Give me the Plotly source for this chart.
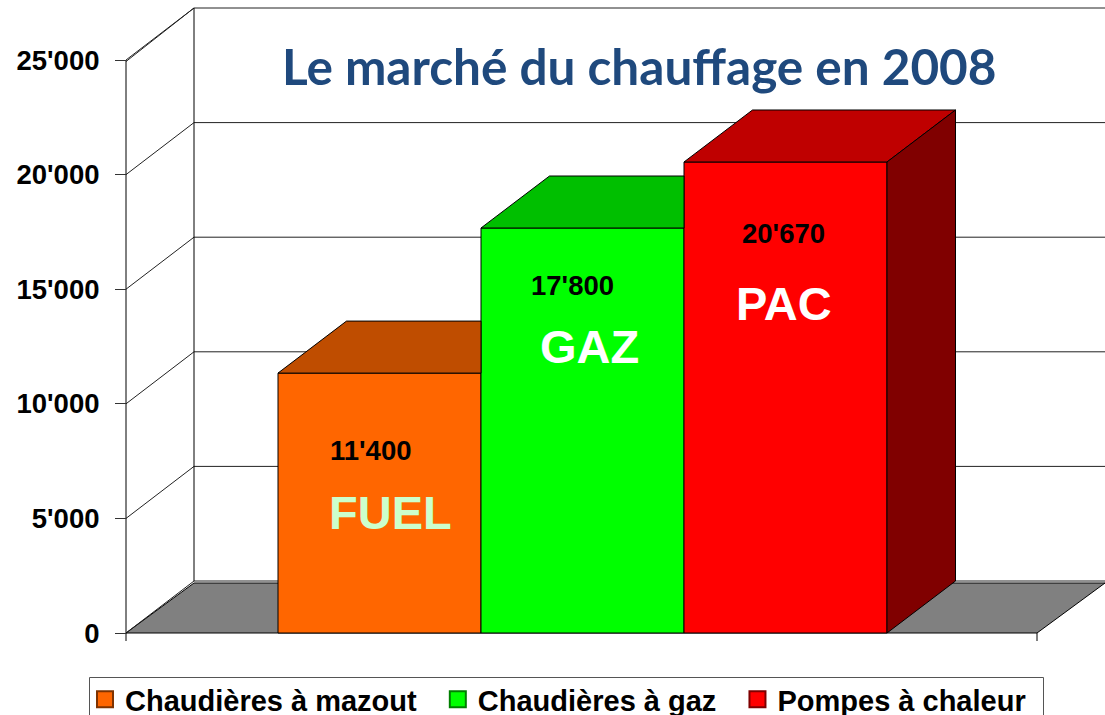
import plotly.graph_objects as go

# --- data ---
series_names = ["Chaudières à mazout", "Chaudières à gaz", "Pompes à chaleur"]
bar_values = [11340, 17670, 20550]
value_labels = ["11'400", "17'800", "20'670"]
short_labels = ["FUEL", "GAZ", "PAC"]
tick_values = [0, 5000, 10000, 15000, 20000, 25000]
tick_labels = ["0", "5'000", "10'000", "15'000", "20'000", "25'000"]
title_text = "Le marché du chauffage en 2008"

front_colors = ["#FF6600", "#00FF00", "#FF0000"]
top_colors = ["#BF4D00", "#00BF00", "#BF0000"]
swatch_edges = ["#7F3300", "#007F00", "#7F0000"]
side_color = "#800000"
short_colors = ["#CCFFCC", "#FFFFFF", "#FFFFFF"]

# --- layout constants (pixel geometry of the picture) ---
W, H = 1105, 715
H_FIG = 745  # legend box runs off the bottom of the window, as in the picture
X_UNIT = 203.0
X_ONE = 379.5
Y_ZERO = 633.0
Y_UNIT = 0.02292
x_of = lambda p: 1 + (p - X_ONE) / X_UNIT
y_of = lambda p: (Y_ZERO - p) / Y_UNIT
DX = 68.5 / X_UNIT
DY = 52 / Y_UNIT
FLOOR_DY = 50 / Y_UNIT
FRONT_L, FRONT_R = x_of(126), x_of(1037)
WALL_L = x_of(194)
X_MAX = x_of(W)

fig = go.Figure()
positions = [1, 2, 3]

# front faces
for name, xp, v, c in zip(series_names, positions, bar_values, front_colors):
    fig.add_trace(go.Bar(x=[xp], y=[v], width=1, name=name, showlegend=False,
                         marker=dict(color=c, line=dict(color="black", width=1)),
                         hoverinfo="name+y"))

# top faces (hidden part behind the next, taller bar is cut off)
for i, (xp, v, c) in enumerate(zip(positions, bar_values, top_colors)):
    l, r = xp - .5, xp + .5
    if i < len(positions) - 1:
        xs = [l, r, r, l + DX, l]
    else:
        xs = [l, r, r + DX, l + DX, l]
    ys = [v, v, v + DY, v + DY, v]
    fig.add_trace(go.Scatter(x=xs, y=ys, mode="lines", fill="toself", fillcolor=c,
                             line=dict(color="black", width=1), showlegend=False,
                             hoverinfo="skip"))

# side face of the last bar
r = positions[-1] + .5
v = bar_values[-1]
fig.add_trace(go.Scatter(x=[r, r + DX, r + DX, r, r], y=[0, DY, v + DY, v, 0],
                         mode="lines", fill="toself", fillcolor=side_color,
                         line=dict(color="black", width=1), showlegend=False,
                         hoverinfo="skip"))

# legend entries
for name, c, e in zip(series_names, front_colors, swatch_edges):
    fig.add_trace(go.Scatter(x=[None], y=[None], mode="markers",
                             name=f"<b>{name}</b>\u00a0\u00a0",
                             marker=dict(symbol="square", size=16, color=c,
                                         line=dict(color=e, width=2))))

# walls, floor, axis lines
line = dict(color="#222222", width=1)
black = dict(color="black", width=1)
shapes = []
floor_path = (f"M {FRONT_L} 0 L {WALL_L} {FLOOR_DY} L {X_MAX} {FLOOR_DY} "
              f"L {FRONT_R} 0 Z")
shapes.append(dict(type="path", path=floor_path, xref="x", yref="y", layer="below",
                   fillcolor="#808080", line=black))
for t in tick_values:
    shapes.append(dict(type="line", xref="x", yref="y", layer="below", line=line,
                       x0=WALL_L, x1=X_MAX, y0=t + DY, y1=t + DY))
    shapes.append(dict(type="line", xref="x", yref="y", layer="below", line=line,
                       x0=FRONT_L, x1=WALL_L, y0=t, y1=t + DY))
# doubled edge at the top-left corner of the frame
shapes.append(dict(type="line", xref="x", yref="y", layer="below", line=line,
                   x0=FRONT_L, x1=WALL_L, y0=tick_values[-1] - 1.5 / Y_UNIT,
                   y1=tick_values[-1] + DY))
shapes.append(dict(type="line", xref="x", yref="y", layer="below", line=black,
                   x0=WALL_L, x1=WALL_L, y0=DY, y1=tick_values[-1] + DY))
shapes.append(dict(type="line", xref="x", yref="y", layer="below", line=black,
                   x0=FRONT_L, x1=FRONT_L, y0=y_of(641), y1=tick_values[-1]))
shapes.append(dict(type="line", xref="x", yref="y", layer="below", line=black,
                   x0=FRONT_R, x1=FRONT_R, y0=y_of(641), y1=0))
# legend frame
shapes.append(dict(type="rect", xref="paper", yref="paper", layer="below",
                   x0=89.5 / W, x1=1043.5 / W, y0=1 - 735 / H_FIG, y1=1 - 677.5 / H_FIG,
                   fillcolor="white", line=dict(color="#555555", width=1)))

ARIAL = "Liberation Sans, Arial, sans-serif"
annotations = [dict(text=f"<b>{title_text}</b>", xref="paper", yref="paper",
                    x=639 / W, y=1 - 66 / H_FIG, xanchor="center", yanchor="middle",
                    showarrow=False,
                    font=dict(family="Lato, sans-serif", size=49.5, color="#1F497D"))]
value_px = [(371, 450), (572, 285), (783, 233)]
short_px = [(390, 512), (589, 346), (784, 303)]
for s, (px, py) in zip(value_labels, value_px):
    annotations.append(dict(text=f"<b>{s}</b>", x=x_of(px), y=y_of(py), xref="x", yref="y",
                            showarrow=False, font=dict(family=ARIAL, size=27.5, color="black")))
for s, c, (px, py) in zip(short_labels, short_colors, short_px):
    annotations.append(dict(text=f"<b>{s}</b>", x=x_of(px), y=y_of(py), xref="x", yref="y",
                            showarrow=False, font=dict(family=ARIAL, size=47, color=c)))

fig.update_layout(
    width=W, height=H_FIG, margin=dict(l=0, r=0, t=0, b=0, pad=0),
    paper_bgcolor="white", plot_bgcolor="white", barmode="overlay",
    shapes=shapes, annotations=annotations,
    xaxis=dict(range=[x_of(0), X_MAX], visible=False, domain=[0, 1]),
    yaxis=dict(range=[y_of(H_FIG), y_of(0)], domain=[0, 1], anchor="free", position=126 / W,
               tickvals=tick_values, ticktext=[f"<b>{t}</b>" for t in tick_labels],
               ticks="outside", ticklen=11, tickcolor="#333333", tickwidth=1,
               ticklabelstandoff=10, showgrid=False, zeroline=False, showline=False,
               tickfont=dict(family=ARIAL, size=27.5, color="black")),
    legend=dict(orientation="h", xref="paper", yref="paper", x=85 / W, xanchor="left",
                y=1 - 674 / H_FIG, yanchor="top", borderwidth=0,
                bgcolor="rgba(0,0,0,0)", font=dict(family=ARIAL, size=29, color="black"),
                traceorder="normal"),
)
fig.write_html("out.html", config={"displayModeBar": False},
               post_script="document.body.style.margin='0';"
                           "document.documentElement.style.overflow='hidden';"
                           "document.body.style.overflow='hidden';")
